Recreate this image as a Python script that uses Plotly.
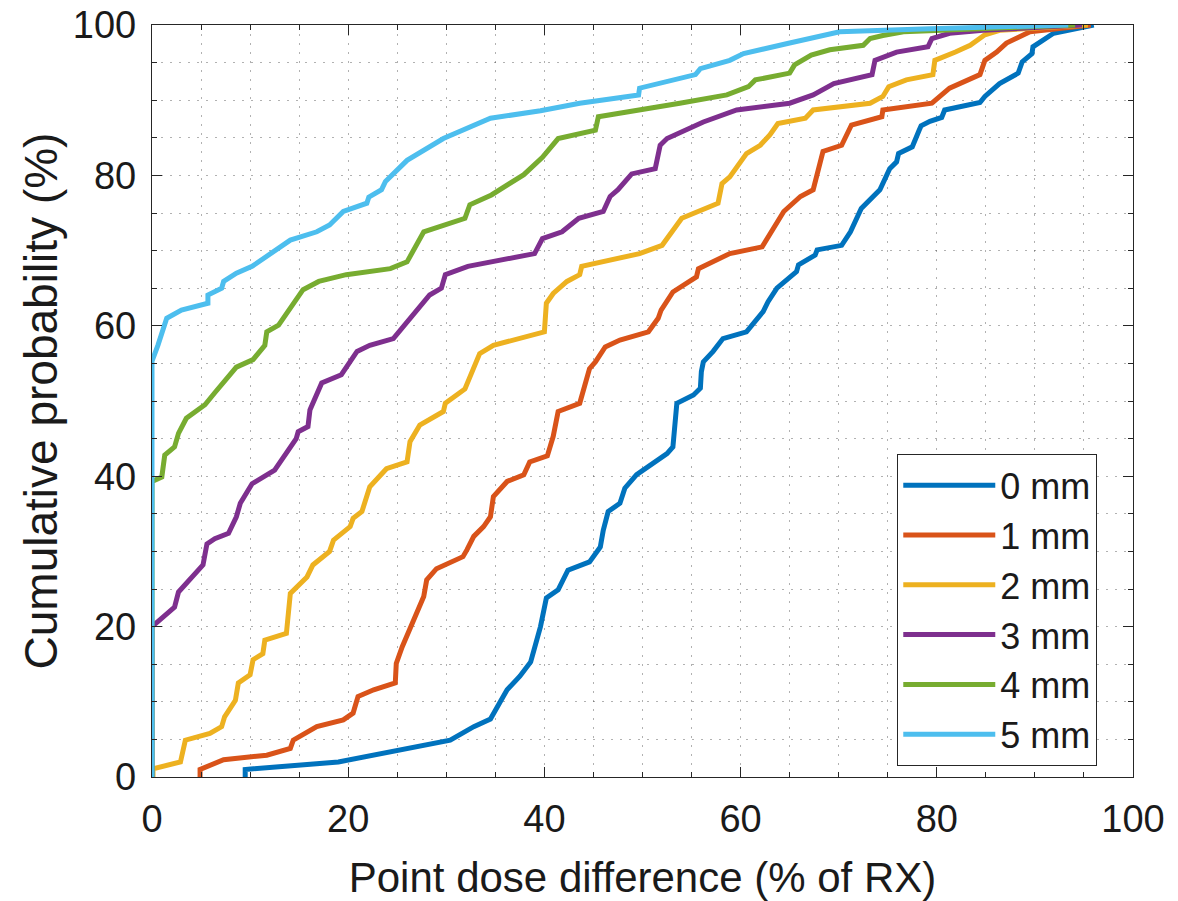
import plotly.graph_objects as go

FONT = "Liberation Sans, Arial, sans-serif"

series_names = ["0 mm", "1 mm", "2 mm", "3 mm", "4 mm", "5 mm"]
series_colors = ["#0072BD", "#D95319", "#EDB120", "#7E2F8E", "#77AC30", "#4DBEEE"]

x_0mm = [9.5, 9.5, 19.0, 30.4, 32.8, 34.5, 35.5, 36.2, 37.5, 38.6, 39.6, 40.2, 41.4, 42.4, 44.6, 45.7, 46.0, 46.5,
         47.7, 48.2, 49.4, 50.6, 52.5, 53.1, 53.5, 55.2, 55.9, 56.0, 56.2, 57.2, 58.2, 60.6, 62.3, 62.8, 63.7, 65.7,
         65.9, 67.6, 67.8, 70.3, 71.2, 72.3, 74.2, 75.2, 75.9, 76.1, 77.5, 78.2, 78.4, 79.3, 80.5, 80.8, 84.4, 84.9,
         86.4, 88.3, 88.7, 89.7, 89.8, 91.9, 96.0]
y_0mm = [0.0, 1.0, 2.0, 4.9, 6.7, 7.7, 10.0, 11.6, 13.4, 15.3, 20.0, 23.8, 24.9, 27.5, 28.6, 30.6, 32.8, 35.3,
         36.4, 38.4, 40.2, 41.3, 43.0, 43.9, 49.7, 50.8, 51.7, 53.9, 55.2, 56.6, 58.3, 59.2, 61.9, 63.2, 65.0, 67.2,
         68.1, 69.4, 70.1, 70.7, 72.5, 75.6, 78.1, 80.9, 81.8, 82.9, 83.8, 86.0, 86.6, 87.2, 87.7, 88.7, 89.7, 90.5,
         92.2, 93.6, 95.1, 96.2, 97.1, 98.9, 100.0]

x_1mm = [4.9, 4.9, 7.3, 11.7, 14.1, 14.4, 16.8, 19.5, 20.5, 21.0, 22.6, 24.8, 24.9, 25.5, 27.7, 28.0, 29.0, 31.7,
         32.1, 32.8, 33.8, 34.5, 34.8, 35.8, 36.2, 37.9, 38.5, 40.3, 40.9, 41.4, 43.6, 44.6, 45.2, 46.2, 47.7, 50.6,
         51.6, 51.9, 53.1, 55.5, 55.7, 58.9, 62.2, 64.4, 66.1, 67.4, 68.3, 68.4, 70.3, 71.3, 74.4, 74.5, 79.5, 81.3,
         84.4, 84.9, 86.1, 87.1, 89.5, 95.7]
y_1mm = [0.0, 1.0, 2.3, 2.9, 3.8, 4.9, 6.7, 7.6, 8.5, 10.7, 11.6, 12.5, 15.1, 17.3, 24.0, 26.2, 27.7, 29.3,
         30.2, 32.0, 33.3, 34.6, 37.3, 38.6, 39.3, 40.2, 41.9, 42.7, 45.3, 48.6, 49.7, 54.3, 55.2, 57.2, 58.1, 59.2,
         61.0, 62.1, 64.5, 66.5, 67.6, 69.6, 70.5, 75.2, 77.2, 78.1, 82.3, 83.2, 84.0, 86.7, 87.8, 88.7, 89.6, 91.6,
         93.4, 95.3, 96.4, 97.6, 99.1, 100.0]

x_2mm = [0.1, 0.1, 2.9, 3.4, 5.9, 7.1, 7.4, 8.5, 8.8, 10.0, 10.3, 11.3, 11.5, 13.7, 14.1, 15.8, 16.4, 18.1, 18.5,
         20.2, 20.5, 21.4, 22.2, 23.9, 26.0, 26.3, 27.3, 29.7, 29.9, 31.9, 33.4, 34.8, 40.0, 40.2, 40.9, 42.3, 43.6,
         43.8, 49.7, 52.0, 54.0, 56.2, 57.7, 58.1, 58.9, 60.6, 62.0, 63.0, 63.8, 66.6, 67.4, 73.2, 74.5, 75.1, 76.9,
         79.6, 79.8, 81.9, 83.4, 84.9, 86.4, 95.4]
y_2mm = [0.0, 1.1, 2.0, 4.9, 5.8, 6.7, 8.0, 10.2, 12.5, 13.6, 15.6, 16.4, 18.2, 19.1, 24.4, 26.6, 28.2, 30.0, 31.5,
         33.3, 34.4, 35.3, 38.6, 41.0, 41.9, 44.6, 46.8, 48.6, 49.7, 51.6, 56.3, 57.4, 59.2, 63.0, 64.3, 65.9, 66.8,
         67.9, 69.6, 70.7, 74.3, 75.4, 76.3, 78.9, 79.8, 82.9, 84.0, 85.4, 86.9, 87.6, 88.7, 89.6, 90.5, 91.8, 92.7,
         93.4, 95.3, 96.4, 97.3, 98.7, 99.3, 100.0]

x_3mm = [0.0, 0.0, 0.8, 2.3, 2.7, 4.4, 5.2, 5.6, 6.4, 7.8, 8.6, 9.0, 10.2, 12.5, 13.9, 14.7, 14.9, 15.9, 16.1, 16.8,
         17.3, 19.3, 20.9, 22.2, 24.6, 28.3, 29.5, 29.9, 32.2, 39.0, 39.8, 41.8, 43.5, 46.0, 46.7, 47.5, 48.9, 51.3,
         51.8, 52.5, 56.2, 59.6, 65.0, 67.4, 69.5, 73.4, 73.7, 75.9, 79.1, 79.5, 81.3, 84.7, 94.8]
y_3mm = [0.0, 20.0, 20.9, 22.6, 24.6, 27.1, 28.2, 31.0, 31.7, 32.4, 34.6, 36.4, 39.0, 40.8, 43.5, 45.0, 45.9, 46.6,
         48.8, 51.0, 52.4, 53.5, 56.6, 57.4, 58.3, 64.1, 65.0, 66.8, 67.9, 69.6, 71.6, 72.5, 74.3, 75.2, 77.2, 78.1,
         80.2, 80.9, 84.0, 84.9, 87.1, 88.7, 89.6, 90.7, 92.2, 93.4, 95.3, 96.4, 97.1, 98.2, 98.9, 99.3, 100.0]

x_4mm = [0.0, 0.0, 1.0, 1.3, 2.3, 2.7, 3.5, 5.4, 6.4, 8.6, 10.3, 11.5, 11.7, 12.9, 15.4, 17.0, 19.8, 24.3, 26.0,
         27.7, 31.9, 32.4, 34.6, 37.9, 39.8, 41.4, 45.2, 45.5, 53.8, 58.6, 60.8, 61.5, 65.0, 65.5, 67.2, 69.1, 72.5,
         73.2, 74.5, 76.6, 94.1]
y_4mm = [0.0, 39.3, 39.9, 42.8, 43.9, 45.7, 47.7, 49.5, 51.1, 54.5, 55.5, 57.4, 59.2, 60.1, 64.8, 65.9, 66.8, 67.6,
         68.5, 72.5, 74.3, 76.1, 77.4, 80.1, 82.4, 84.9, 86.0, 87.8, 89.6, 90.7, 91.8, 92.7, 93.6, 94.7, 96.0, 96.7,
         97.3, 98.2, 98.6, 99.1, 100.0]

x_5mm = [0.0, 0.0, 0.6, 1.5, 3.0, 5.7, 5.7, 7.1, 7.3, 8.6, 10.2, 14.1, 16.8, 18.1, 19.5, 21.9, 22.1, 23.4, 23.8,
         26.0, 29.7, 34.5, 39.6, 43.6, 49.6, 49.7, 55.4, 55.9, 58.9, 60.3, 65.0, 70.1, 79.3, 93.4]
y_5mm = [0.0, 55.3, 57.4, 61.0, 62.1, 63.0, 64.1, 65.0, 65.9, 67.0, 67.9, 71.4, 72.5, 73.4, 75.2, 76.3, 77.1, 78.1,
         79.2, 82.0, 84.9, 87.6, 88.6, 89.6, 90.7, 91.6, 93.4, 94.2, 95.3, 96.2, 97.6, 99.1, 99.5, 100.0]

x_data = [x_0mm, x_1mm, x_2mm, x_3mm, x_4mm, x_5mm]
y_data = [y_0mm, y_1mm, y_2mm, y_3mm, y_4mm, y_5mm]

x_title = "Point dose difference (% of RX)"
y_title = "Cumulative probability (%)"
axis_range = [0, 100]
major_step = 20
minor_step = 5

fig = go.Figure()
for name, color, xs, ys in zip(series_names, series_colors, x_data, y_data):
    fig.add_trace(go.Scatter(x=xs, y=ys, mode="lines", name=name,
                             line=dict(color=color, width=5)))

AX = "#262626"
GRID = "rgba(60,60,60,0.4)"
common = dict(
    range=axis_range, dtick=major_step, tick0=0,
    ticks="inside", ticklen=10, tickwidth=1.3, tickcolor=AX,
    showline=True, linecolor=AX, linewidth=1.3, mirror="ticks",
    showgrid=True, gridcolor=GRID, gridwidth=1, griddash="1.5px,7.5px",
    zeroline=False,
    tickfont=dict(family=FONT, size=38, color="#1a1a1a"),
    minor=dict(dtick=minor_step, tick0=0, showgrid=True, gridcolor=GRID, gridwidth=1,
               griddash="1.5px,7.5px", ticks="inside", ticklen=5, tickcolor=AX, tickwidth=1),
)

fig.update_xaxes(**common, ticklabelstandoff=8,
                 title=dict(text=x_title, font=dict(family=FONT, size=42, color="#1a1a1a"), standoff=23))
fig.update_yaxes(**common, ticklabelstandoff=7,
                 title=dict(text=y_title, font=dict(family=FONT, size=46, color="#1a1a1a"), standoff=0))

fig.update_layout(
    width=1178, height=901,
    margin=dict(l=152, r=45, t=25, b=124, autoexpand=False),
    plot_bgcolor="white", paper_bgcolor="white",
    font=dict(family=FONT),
    legend=dict(x=0.7594, y=0.4295, xanchor="left", yanchor="top",
                bgcolor="white", bordercolor=AX, borderwidth=1.3,
                font=dict(family=FONT, size=36, color="#1a1a1a"),
                itemwidth=92, tracegroupgap=0),
    showlegend=True,
)

# remove the default 8px page margin so the figure fills the window exactly
fig.write_html("out.html", config={"displayModeBar": False},
               post_script="document.body.style.margin='0px';")
